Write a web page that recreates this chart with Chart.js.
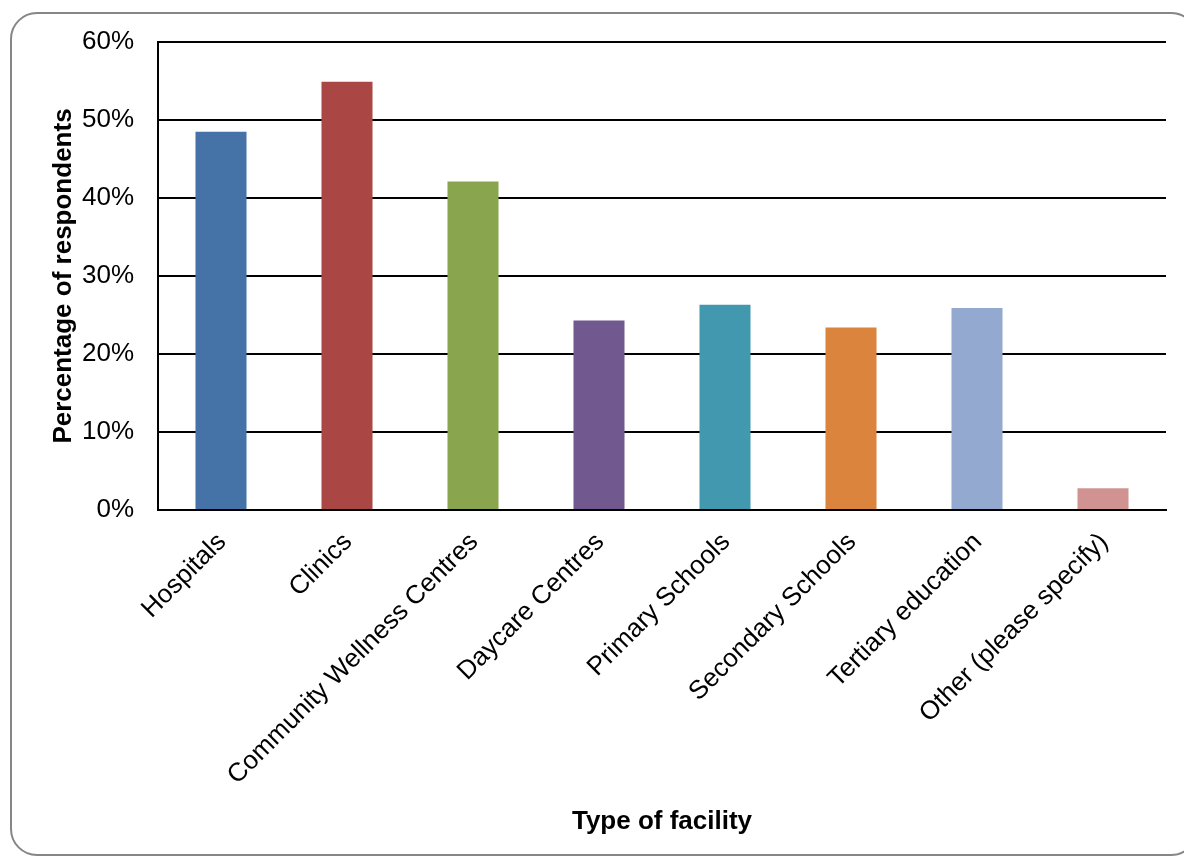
<!DOCTYPE html>
<html>
<head>
<meta charset="utf-8">
<script src="https://cdn.jsdelivr.net/npm/chart.js@4/dist/chart.umd.min.js"></script>
<style>
  html, body { margin: 0; padding: 0; background: #ffffff; }
  #wrap { position: relative; width: 1184px; height: 858px; }
</style>
</head>
<body>
<div id="wrap"><canvas id="chart" width="1184" height="858"></canvas></div>
<script>
// Facility types surveyed
const categories = [
  'Hospitals',
  'Clinics',
  'Community Wellness Centres',
  'Daycare Centres',
  'Primary Schools',
  'Secondary Schools',
  'Tertiary education',
  'Other (please specify)'
];

// Share of respondents per facility type (%)
const percentages = [48.5, 54.9, 42.1, 24.3, 26.3, 23.4, 25.9, 2.8];

// Y-axis tick values (%)
const yTicks = [0, 10, 20, 30, 40, 50, 60];

const barColors = [
  '#4572A7', '#AA4643', '#89A54E', '#71588F',
  '#4198AF', '#DB843D', '#93A9CF', '#D19392'
];

const FONT = 'Liberation Sans, Arial, Helvetica, sans-serif';

// Rounded grey frame around the whole chart
const framePlugin = {
  id: 'frame',
  beforeDraw(chart) {
    const ctx = chart.ctx;
    const x = 11, y = 13, w = 1186, h = 842, r = 26;
    ctx.save();
    ctx.fillStyle = '#ffffff';
    ctx.fillRect(0, 0, chart.width, chart.height);
    ctx.beginPath();
    ctx.moveTo(x + r, y);
    ctx.lineTo(x + w - r, y);
    ctx.arcTo(x + w, y, x + w, y + r, r);
    ctx.lineTo(x + w, y + h - r);
    ctx.arcTo(x + w, y + h, x + w - r, y + h, r);
    ctx.lineTo(x + r, y + h);
    ctx.arcTo(x, y + h, x, y + h - r, r);
    ctx.lineTo(x, y + r);
    ctx.arcTo(x, y, x + r, y, r);
    ctx.closePath();
    ctx.lineWidth = 2;
    ctx.strokeStyle = '#868686';
    ctx.stroke();
    ctx.restore();
  }
};

new Chart(document.getElementById('chart'), {
  type: 'bar',
  data: {
    labels: categories,
    datasets: [{
      data: percentages,
      backgroundColor: barColors,
      borderWidth: 0,
      categoryPercentage: 1,
      barPercentage: 0.405
    }]
  },
  options: {
    responsive: false,
    animation: false,
    events: [],
    layout: { padding: { left: 48, top: 42, right: 18, bottom: 0 } },
    plugins: {
      legend: { display: false },
      tooltip: { enabled: false },
      title: { display: false }
    },
    scales: {
      x: {
        grid: { display: false, drawTicks: false },
        border: { display: true, color: '#000000', width: 2 },
        ticks: {
          autoSkip: false,
          maxRotation: 45,
          minRotation: 45,
          padding: 17,
          labelOffset: 1,
          color: '#000000',
          font: { family: FONT, size: 26 }
        },
        title: {
          display: true,
          text: 'Type of facility',
          color: '#000000',
          font: { family: FONT, size: 26, weight: 'bold' },
          padding: { top: 0, bottom: 21 }
        },
        afterFit(scale) { scale.height = 348; }
      },
      y: {
        min: 0,
        max: 60,
        afterBuildTicks(scale) { scale.ticks = yTicks.map(v => ({ value: v })); },
        grid: { color: '#000000', lineWidth: 2, drawTicks: false },
        border: { display: true, color: '#000000', width: 2 },
        ticks: {
          padding: 24,
          color: '#000000',
          font: { family: FONT, size: 26 },
          callback: v => v + '%'
        },
        title: {
          display: true,
          text: 'Percentage of respondents',
          color: '#000000',
          font: { family: FONT, size: 26, weight: 'bold' },
          padding: { top: 0, bottom: 0 }
        },
        afterFit(scale) { scale.width = 110; }
      }
    }
  },
  plugins: [framePlugin]
});
</script>
</body>
</html>
